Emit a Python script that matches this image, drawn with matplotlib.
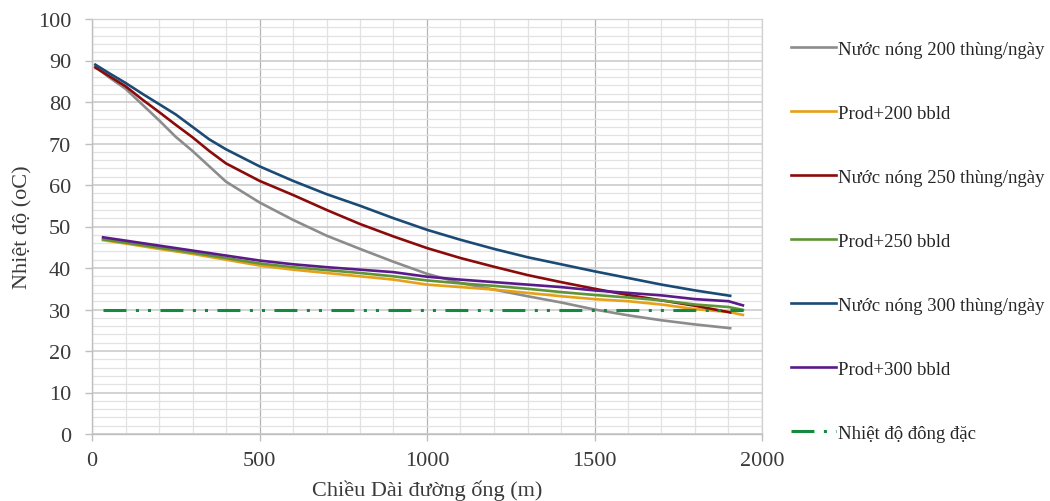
import matplotlib
matplotlib.use("Agg")
import matplotlib.pyplot as plt
from matplotlib.ticker import MultipleLocator

plt.rcParams['font.family'] = ['Liberation Serif', 'DejaVu Serif']

# Hot water series (distance in m)
x_hot = [10, 50, 100, 150, 200, 250, 300, 350, 400, 500, 600, 700, 800, 900,
         1000, 1100, 1200, 1300, 1400, 1500, 1600, 1700, 1800, 1905]
nuoc_200 = [88.5, 86.0, 83.2, 79.4, 75.6, 71.6, 68.2, 64.5, 60.8, 55.8, 51.6, 47.8,
            44.6, 41.5, 38.6, 36.4, 34.8, 33.2, 31.7, 30.0, 28.6, 27.4, 26.4, 25.5]
nuoc_250 = [88.3, 86.3, 83.8, 80.6, 77.6, 74.5, 71.5, 68.2, 65.2, 61.0, 57.6, 54.0,
            50.6, 47.6, 44.8, 42.4, 40.3, 38.3, 36.6, 35.0, 33.5, 32.2, 30.9, 29.3]
nuoc_300 = [89.0, 87.0, 84.6, 82.0, 79.5, 77.0, 74.0, 71.0, 68.6, 64.5, 61.0, 57.8,
            55.0, 52.0, 49.2, 46.8, 44.6, 42.6, 40.9, 39.2, 37.6, 36.0, 34.6, 33.3]

# Production + water series
x_prod = [33, 100, 200, 300, 400, 500, 600, 700, 800, 900, 1000, 1100, 1200,
          1300, 1400, 1500, 1600, 1700, 1800, 1900, 1943]
prod_200 = [46.7, 45.9, 44.6, 43.4, 42.0, 40.6, 39.6, 38.8, 38.0, 37.2, 36.0, 35.4,
            34.8, 34.0, 33.2, 32.5, 32.0, 31.2, 30.1, 29.4, 28.7]
prod_250 = [46.9, 46.1, 44.9, 43.7, 42.4, 41.1, 40.2, 39.5, 38.8, 38.0, 37.0, 36.3,
            35.7, 35.0, 34.2, 33.5, 32.9, 32.2, 31.2, 30.6, 29.9]
prod_300 = [47.4, 46.6, 45.4, 44.2, 43.0, 41.8, 40.9, 40.2, 39.6, 39.0, 37.9, 37.2,
            36.6, 36.0, 35.4, 34.6, 34.0, 33.4, 32.5, 32.0, 31.0]

# Pour / solidification temperature
x_freeze = [33, 1943]
freeze = [30, 30]

labels = ["Nước nóng 200 thùng/ngày", "Prod+200 bbld", "Nước nóng 250 thùng/ngày",
          "Prod+250 bbld", "Nước nóng 300 thùng/ngày", "Prod+300 bbld",
          "Nhiệt độ đông đặc"]
colors = ['#8C8C8C', '#E6A118', '#8B0A0A', '#5E9437', '#1B4A75', '#5A1A8A', '#138A3E']

fig = plt.figure(figsize=(10.5, 5.02), dpi=100)
ax = fig.add_axes([92/1050, 67/502, 670/1050, 415/502])

lw = 1.9
series = [(x_hot, nuoc_200), (x_prod, prod_200), (x_hot, nuoc_250),
          (x_prod, prod_250), (x_hot, nuoc_300), (x_prod, prod_300)]
handles = []
for (xs, ys), c, lab in zip(series, colors[:6], labels[:6]):
    h, = ax.plot(xs, ys, color=c, lw=lw, label=lab, zorder=3)
    handles.append(h)
h, = ax.plot(x_freeze, freeze, color=colors[6], lw=2.2, label=labels[6],
             dashes=(7.5, 3.1, 1.0, 2.95, 1.0, 3.1), dash_capstyle='butt', zorder=3)
handles.append(h)

ax.set_xlim(0, 2000)
ax.set_ylim(0, 100)
ax.xaxis.set_major_locator(MultipleLocator(500))
ax.xaxis.set_minor_locator(MultipleLocator(100))
ax.yaxis.set_major_locator(MultipleLocator(10))
ax.yaxis.set_minor_locator(MultipleLocator(2))

ax.grid(which='minor', axis='both', color='#E2E2E2', lw=0.9, zorder=0)
ax.grid(which='major', axis='y', color='#C8C8C8', lw=1.1, zorder=1)
ax.grid(which='major', axis='x', color='#B4B4B4', lw=0.9, zorder=1)
ax.set_axisbelow(True)

for s in ['top', 'right']:
    ax.spines[s].set_color('#D0D0D0')
    ax.spines[s].set_linewidth(0.9)
for s in ['left', 'bottom']:
    ax.spines[s].set_color('#BFBFBF')
    ax.spines[s].set_linewidth(1.0)

ax.tick_params(which='major', direction='out', length=5, width=1.0, color='#BFBFBF',
               labelsize=16, labelcolor='#3A3A3A')
ax.tick_params(axis='y', pad=10)
ax.tick_params(axis='x', pad=7)
ax.tick_params(which='minor', length=0)

ax.set_xlabel("Chiều Dài đường ống (m)", fontsize=16, color='#3A3A3A', labelpad=7)
ax.set_ylabel("Nhiệt độ (oC)", fontsize=16, color='#3A3A3A', labelpad=4)

leg = fig.legend(handles=handles, labels=labels, loc='upper left',
                 bbox_to_anchor=(783/1050, 1 - 34/502), frameon=False,
                 fontsize=13.5, labelspacing=2.5, handlelength=2.4,
                 handletextpad=0.15, borderaxespad=0)
for t in leg.get_texts():
    t.set_color('#262626')

fig.savefig("out.png", dpi=100)
